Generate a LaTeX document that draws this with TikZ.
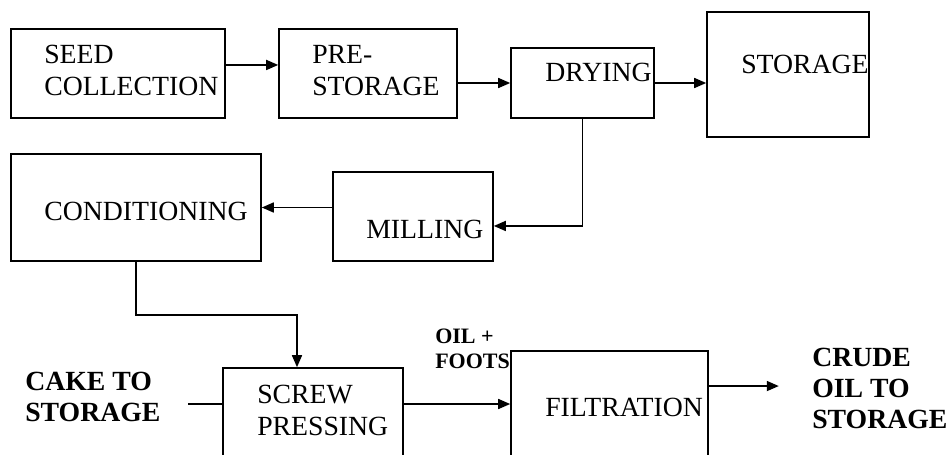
\documentclass[tikz,border=0pt]{standalone}
\usepackage{fontspec}
\setmainfont{Liberation Serif}
\usetikzlibrary{positioning, arrows.meta}

\begin{document}
\begin{tikzpicture}[
    x=0.75pt, y=-0.75pt,
    box/.style={draw, line width=1.2pt, inner sep=0pt},
    flow/.style={-{Triangle[length=9pt, width=7.5pt]}, line width=1.2pt},
    plain/.style={line width=1.2pt},
    lbl/.style={anchor=base west, inner sep=0pt, align=left,
        font=\fontsize{20.8pt}{24pt}\selectfont},
    bold/.style={lbl, font=\fontsize{20.8pt}{23.25pt}\selectfont\bfseries}
]

% Frame of the page
\clip (0,0) rectangle (948,454);

% Process boxes
\node[box, minimum width=160.5pt, minimum height=66.75pt] (seed) at (118,73.5) {};
\node[box, minimum width=133.5pt, minimum height=66.75pt] (prestore) at (368,73.5) {};
\node[box, minimum width=107.25pt, minimum height=52.5pt] (dry) at (582.5,83) {};
\node[box, minimum width=121.5pt, minimum height=93.75pt] (store) at (788,74.5) {};
\node[box, minimum width=187.5pt, minimum height=80.25pt] (cond) at (136,207.5) {};
\node[box, minimum width=120pt, minimum height=66.75pt] (mill) at (413,216.5) {};
\node[box, minimum width=135pt, minimum height=84pt] (screw) at (313,424) {};
\node[box, minimum width=147.75pt, minimum height=96.75pt] (filt) at (609.5,415.5) {};

% Box texts (base = last line)
\node[lbl] (tseed) at (44,95) {SEED\\COLLECTION};
\node[lbl] (tprestore) at (312,95) {PRE-\\STORAGE};
\node[lbl] (tdry) at (545,81) {DRYING};
\node[lbl] (tstore) at (741,73) {STORAGE};
\node[lbl] (tcond) at (44,220) {CONDITIONING};
\node[lbl] (tmill) at (366,238) {MILLING};
\node[lbl] (tscrew) at (257,435) {SCREW\\PRESSING};
\node[lbl] (tfilt) at (545,416) {FILTRATION};

% Stream labels
\node[bold] (cake) at (25,421) {CAKE TO\\STORAGE};
\node[bold, font=\fontsize{16.5pt}{18.75pt}\selectfont\bfseries] (foots) at (435,368) {OIL +\\FOOTS};
\node[bold, font=\fontsize{20.8pt}{22.9pt}\selectfont\bfseries] (crude) at (812,428) {CRUDE\\OIL TO\\STORAGE};

% Connectors
\draw[flow] ([yshift=6.4pt]seed.east) -- ([yshift=6.4pt]prestore.west);
\draw[flow] (prestore.east |- dry.west) -- (dry.west);
\draw[flow] (dry.east) -- (dry.east -| store.west);
\coordinate (millin) at ([yshift=-7.1pt]mill.east);
\draw[flow] (dry.south) |- (millin);
\draw[flow] (mill.west |- cond.east) -- (cond.east);
\coordinate (screwin) at ([xshift=-12pt]screw.north);
\draw[flow] (cond.south) -- ++(0,53) -| (screwin);
\coordinate (screwout) at ([yshift=15pt]screw.east);
\draw[flow] (screwout) -- (screwout -| filt.west);
\coordinate (cakeend) at ([yshift=15pt, xshift=-25.5pt]screw.west);
\draw[plain] ([yshift=15pt]screw.west) -- (cakeend);
\coordinate (crudeend) at ([yshift=22.1pt, xshift=52.5pt]filt.east);
\draw[flow] ([yshift=22.1pt]filt.east) -- (crudeend);

\end{tikzpicture}
\end{document}
